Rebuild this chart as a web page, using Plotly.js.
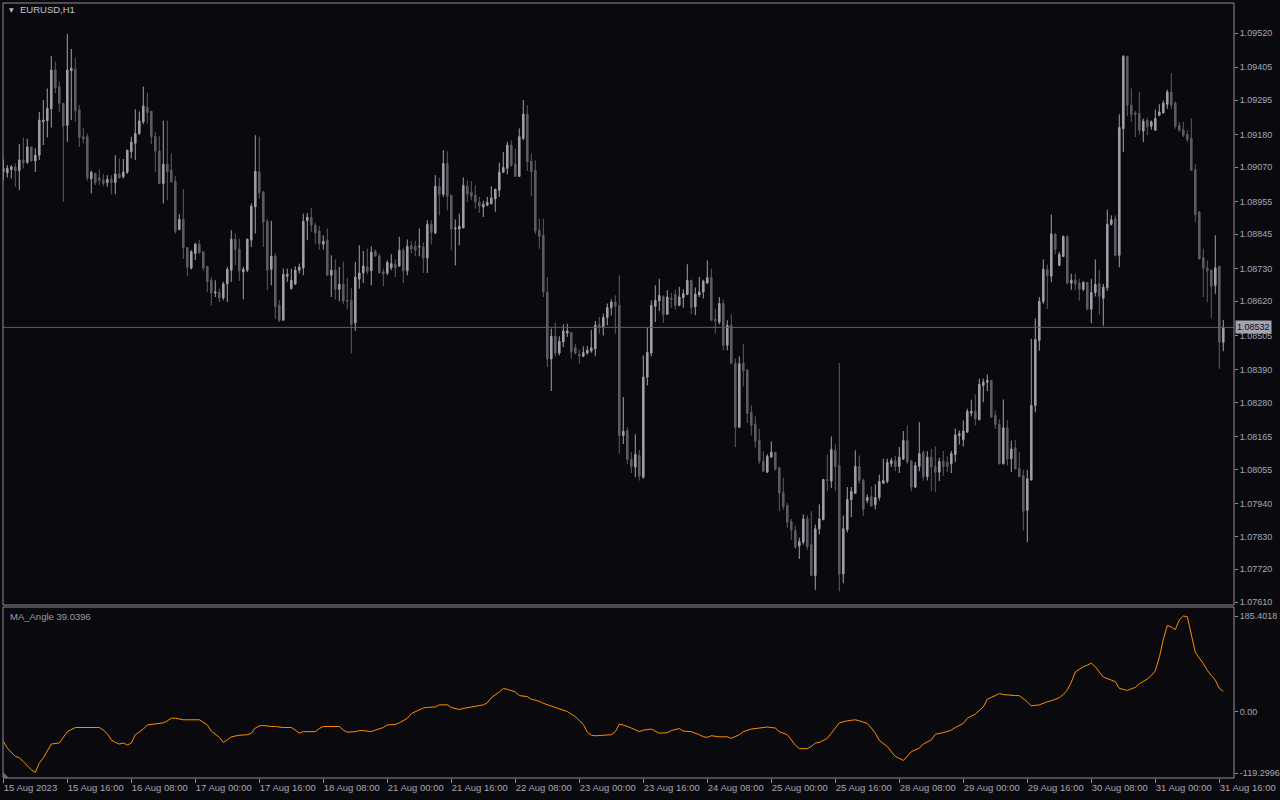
<!DOCTYPE html>
<html><head><meta charset="utf-8">
<script src="https://cdn.plot.ly/plotly-3.0.1.min.js"></script>
<style>html,body{margin:0;padding:0;background:#0a0a0e;}#chart{width:1280px;height:800px;}</style>
</head><body><div id="chart"></div>
<script>
// ---- Data: EURUSD H1, bar index 0 = 15 Aug 2023 00:00 ----
var openP = [
1.09054,1.09051,1.09062,1.09070,1.09058,1.09094,1.09085,1.09138,1.09091,1.09110,
1.09222,1.09226,1.09266,1.09396,1.09340,1.09284,1.09211,1.09394,1.09399,1.09262,
1.09172,1.09172,1.09031,1.09049,1.09033,1.09026,1.09018,1.09029,1.09018,1.09047,
1.09038,1.09053,1.09122,1.09150,1.09183,1.09222,1.09271,1.09258,1.09174,1.09124,
1.09015,1.09080,1.09060,1.09023,1.08861,1.08895,1.08800,1.08731,1.08780,1.08811,
1.08786,1.08737,1.08690,1.08647,1.08650,1.08631,1.08678,1.08724,1.08828,1.08794,
1.08718,1.08724,1.08825,1.08937,1.09054,1.08986,1.08888,1.08727,1.08771,1.08606,
1.08556,1.08704,1.08662,1.08677,1.08724,1.08732,1.08890,1.08902,1.08875,1.08855,
1.08811,1.08825,1.08707,1.08724,1.08660,1.08677,1.08623,1.08623,1.08547,1.08694,
1.08715,1.08735,1.08722,1.08788,1.08772,1.08718,1.08715,1.08732,1.08744,1.08738,
1.08791,1.08722,1.08806,1.08804,1.08802,1.08802,1.08765,1.08878,1.08849,1.09006,
1.08979,1.09082,1.08976,1.08862,1.08862,1.08866,1.09006,1.08986,1.08976,1.08952,
1.08936,1.08942,1.08947,1.08963,1.08992,1.09053,1.09066,1.09144,1.09080,1.09039,
1.09166,1.09248,1.09090,1.09060,1.08858,1.08841,1.08650,1.08426,1.08502,1.08446,
1.08483,1.08513,1.08515,1.08464,1.08441,1.08435,1.08446,1.08453,1.08460,1.08542,
1.08535,1.08565,1.08598,1.08617,1.08606,1.08169,1.08186,1.08089,1.08063,1.08102,
1.08029,1.08365,1.08446,1.08603,1.08621,1.08636,1.08576,1.08630,1.08643,1.08606,
1.08632,1.08643,1.08690,1.08601,1.08641,1.08651,1.08681,1.08699,1.08559,1.08550,
1.08612,1.08472,1.08539,1.08412,1.08197,1.08412,1.08388,1.08246,1.08206,1.08153,
1.08083,1.08046,1.08097,1.08113,1.08060,1.07977,1.07934,1.07880,1.07850,1.07798,
1.07811,1.07889,1.07803,1.07699,1.07856,1.07887,1.08021,1.08016,1.08119,1.08068,
1.07704,1.07853,1.07954,1.07975,1.08065,1.08018,1.07951,1.07964,1.07937,1.07961,
1.08009,1.08015,1.08074,1.08085,1.08065,1.08090,1.08152,1.08083,1.07996,1.08065,
1.08112,1.08031,1.08096,1.08065,1.08046,1.08083,1.08079,1.08074,1.08105,1.08169,
1.08155,1.08180,1.08244,1.08250,1.08222,1.08337,1.08348,1.08354,1.08236,1.08206,
1.08074,1.08195,1.08091,1.08128,1.08059,1.08035,1.07918,1.08020,1.08270,1.08488,
1.08619,1.08727,1.08704,1.08844,1.08740,1.08770,1.08837,1.08681,1.08692,1.08681,
1.08660,1.08683,1.08593,1.08649,1.08678,1.08630,1.08665,1.08878,1.08897,1.08774,
1.09199,1.09442,1.09278,1.09252,1.09250,1.09191,1.09227,1.09207,1.09194,1.09244,
1.09252,1.09281,1.09322,1.09285,1.09210,1.09196,1.09180,1.09167,1.09061,1.08919,
1.08766,1.08732,1.08725,1.08673,1.08737,1.08482];
var highP = [
1.09096,1.09077,1.09077,1.09082,1.09147,1.09170,1.09165,1.09138,1.09133,1.09255,
1.09295,1.09334,1.09443,1.09424,1.09357,1.09284,1.09517,1.09467,1.09436,1.09278,
1.09202,1.09183,1.09058,1.09049,1.09062,1.09047,1.09043,1.09043,1.09110,1.09099,
1.09097,1.09127,1.09172,1.09264,1.09257,1.09340,1.09320,1.09258,1.09188,1.09174,
1.09226,1.09226,1.09116,1.09040,1.08912,1.08996,1.08800,1.08791,1.08816,1.08825,
1.08786,1.08737,1.08701,1.08690,1.08662,1.08685,1.08735,1.08858,1.08847,1.08830,
1.08735,1.08830,1.08948,1.09177,1.09172,1.08990,1.08897,1.08890,1.08780,1.08623,
1.08729,1.08729,1.08729,1.08737,1.08746,1.08914,1.08916,1.08933,1.08883,1.08872,
1.08841,1.08864,1.08774,1.08760,1.08735,1.08753,1.08698,1.08664,1.08752,1.08808,
1.08789,1.08797,1.08804,1.08793,1.08780,1.08729,1.08757,1.08778,1.08760,1.08836,
1.08797,1.08827,1.08822,1.08822,1.08864,1.08817,1.08892,1.08892,1.09043,1.09035,
1.09127,1.09123,1.08976,1.08894,1.08914,1.09035,1.09026,1.09023,1.09009,1.08970,
1.08957,1.08970,1.09006,1.08996,1.09085,1.09121,1.09155,1.09160,1.09132,1.09200,
1.09295,1.09278,1.09116,1.09093,1.08897,1.08897,1.08701,1.08528,1.08548,1.08502,
1.08542,1.08544,1.08515,1.08477,1.08457,1.08468,1.08469,1.08524,1.08553,1.08567,
1.08578,1.08612,1.08626,1.08640,1.08707,1.08298,1.08197,1.08113,1.08173,1.08121,
1.08438,1.08533,1.08623,1.08673,1.08695,1.08640,1.08657,1.08648,1.08659,1.08668,
1.08659,1.08744,1.08692,1.08666,1.08701,1.08692,1.08757,1.08729,1.08595,1.08634,
1.08625,1.08556,1.08576,1.08427,1.08435,1.08477,1.08393,1.08270,1.08233,1.08192,
1.08116,1.08106,1.08149,1.08113,1.08065,1.08027,1.07943,1.07889,1.07867,1.07826,
1.07904,1.07901,1.07915,1.07870,1.07938,1.08024,1.08105,1.08166,1.08139,1.08412,
1.07900,1.07996,1.07996,1.08119,1.08102,1.08024,1.07971,1.07998,1.08005,1.08038,
1.08091,1.08091,1.08094,1.08101,1.08130,1.08184,1.08203,1.08087,1.08080,1.08214,
1.08119,1.08117,1.08124,1.08132,1.08094,1.08117,1.08099,1.08117,1.08192,1.08186,
1.08220,1.08259,1.08289,1.08307,1.08360,1.08360,1.08374,1.08354,1.08253,1.08225,
1.08290,1.08220,1.08152,1.08155,1.08113,1.08054,1.08054,1.08494,1.08561,1.08634,
1.08760,1.08743,1.08911,1.08849,1.08785,1.08841,1.08841,1.08712,1.08712,1.08695,
1.08687,1.08683,1.08695,1.08760,1.08725,1.08678,1.08927,1.08908,1.08908,1.09247,
1.09446,1.09442,1.09334,1.09259,1.09322,1.09233,1.09236,1.09227,1.09263,1.09281,
1.09294,1.09330,1.09386,1.09291,1.09222,1.09222,1.09194,1.09233,1.09079,1.08923,
1.08796,1.08757,1.08725,1.08841,1.08737,1.08557];
var lowP = [
1.09026,1.09035,1.09032,1.09004,1.08993,1.09066,1.09082,1.09088,1.09054,1.09094,
1.09144,1.09170,1.09203,1.09318,1.09256,1.08954,1.09155,1.09228,1.09222,1.09138,
1.09150,1.09024,1.08982,1.09010,1.09010,1.09006,1.09004,1.08979,1.08979,1.09032,
1.09032,1.09047,1.09099,1.09094,1.09178,1.09215,1.09217,1.09147,1.09054,1.09013,
1.08948,1.08959,1.09018,1.08847,1.08858,1.08762,1.08704,1.08726,1.08758,1.08780,
1.08722,1.08651,1.08606,1.08634,1.08617,1.08623,1.08617,1.08685,1.08741,1.08688,
1.08626,1.08718,1.08802,1.08847,1.08965,1.08802,1.08657,1.08673,1.08561,1.08550,
1.08556,1.08685,1.08659,1.08677,1.08713,1.08707,1.08825,1.08853,1.08811,1.08794,
1.08793,1.08707,1.08634,1.08625,1.08620,1.08610,1.08592,1.08445,1.08520,1.08662,
1.08681,1.08710,1.08673,1.08769,1.08713,1.08670,1.08707,1.08724,1.08701,1.08735,
1.08681,1.08707,1.08780,1.08771,1.08771,1.08715,1.08715,1.08811,1.08845,1.08908,
1.08970,1.08925,1.08791,1.08740,1.08808,1.08866,1.08953,1.08959,1.08931,1.08916,
1.08903,1.08939,1.08945,1.08920,1.08970,1.09051,1.09046,1.09071,1.09037,1.09037,
1.09160,1.09057,1.08972,1.08845,1.08796,1.08634,1.08399,1.08318,1.08435,1.08438,
1.08466,1.08500,1.08427,1.08441,1.08410,1.08432,1.08441,1.08447,1.08435,1.08511,
1.08505,1.08539,1.08572,1.08511,1.08108,1.08141,1.08074,1.08043,1.08029,1.08018,
1.08024,1.08337,1.08435,1.08550,1.08587,1.08547,1.08576,1.08598,1.08592,1.08603,
1.08598,1.08640,1.08576,1.08573,1.08634,1.08629,1.08677,1.08554,1.08511,1.08542,
1.08455,1.08455,1.08408,1.08130,1.08195,1.08334,1.08211,1.08169,1.08128,1.08074,
1.08046,1.08043,1.08094,1.08052,1.07915,1.07920,1.07859,1.07819,1.07789,1.07755,
1.07803,1.07785,1.07696,1.07651,1.07837,1.07884,1.07982,1.07993,1.07982,1.07646,
1.07673,1.07844,1.07895,1.07973,1.08007,1.07900,1.07942,1.07931,1.07921,1.07951,
1.08007,1.08009,1.08063,1.08049,1.08043,1.08087,1.08074,1.07982,1.07993,1.08049,
1.08018,1.08018,1.07982,1.07979,1.08016,1.08034,1.08046,1.08043,1.08080,1.08139,
1.08132,1.08180,1.08233,1.08203,1.08220,1.08281,1.08318,1.08229,1.08192,1.08072,
1.08072,1.08068,1.08046,1.08054,1.08029,1.07850,1.07811,1.08018,1.08247,1.08454,
1.08611,1.08594,1.08684,1.08777,1.08740,1.08768,1.08676,1.08658,1.08658,1.08622,
1.08654,1.08591,1.08546,1.08636,1.08575,1.08538,1.08654,1.08874,1.08770,1.08734,
1.09121,1.09241,1.09222,1.09171,1.09180,1.09154,1.09177,1.09196,1.09194,1.09241,
1.09250,1.09266,1.09266,1.09199,1.09188,1.09171,1.09154,1.09057,1.08886,1.08759,
1.08634,1.08617,1.08564,1.08645,1.08393,1.08452];
var closeP = [
1.09066,1.09066,1.09071,1.09058,1.09094,1.09085,1.09138,1.09091,1.09110,1.09228,
1.09228,1.09268,1.09396,1.09336,1.09284,1.09208,1.09396,1.09402,1.09259,1.09170,
1.09165,1.09034,1.09053,1.09018,1.09026,1.09015,1.09029,1.09018,1.09047,1.09034,
1.09053,1.09127,1.09154,1.09183,1.09225,1.09275,1.09253,1.09172,1.09124,1.09015,
1.09080,1.09054,1.09021,1.08855,1.08894,1.08799,1.08733,1.08786,1.08811,1.08782,
1.08731,1.08685,1.08648,1.08651,1.08631,1.08678,1.08727,1.08828,1.08794,1.08722,
1.08727,1.08828,1.08939,1.09056,1.08984,1.08886,1.08724,1.08771,1.08601,1.08556,
1.08710,1.08710,1.08690,1.08724,1.08734,1.08888,1.08902,1.08875,1.08849,1.08813,
1.08821,1.08707,1.08724,1.08660,1.08677,1.08620,1.08620,1.08542,1.08701,1.08715,
1.08738,1.08720,1.08784,1.08772,1.08715,1.08711,1.08750,1.08746,1.08732,1.08791,
1.08722,1.08804,1.08795,1.08791,1.08804,1.08765,1.08878,1.08851,1.09006,1.08979,
1.09082,1.08972,1.08862,1.08865,1.08871,1.09008,1.08979,1.08972,1.08953,1.08939,
1.08945,1.08952,1.08966,1.08996,1.09053,1.09069,1.09144,1.09076,1.09039,1.09172,
1.09248,1.09088,1.09054,1.08856,1.08838,1.08651,1.08426,1.08502,1.08446,1.08485,
1.08520,1.08520,1.08449,1.08446,1.08436,1.08447,1.08455,1.08463,1.08539,1.08533,
1.08565,1.08598,1.08617,1.08603,1.08169,1.08183,1.08089,1.08065,1.08106,1.08032,
1.08365,1.08448,1.08606,1.08623,1.08639,1.08576,1.08634,1.08626,1.08606,1.08634,
1.08645,1.08690,1.08598,1.08644,1.08651,1.08687,1.08699,1.08556,1.08554,1.08612,
1.08472,1.08539,1.08412,1.08197,1.08410,1.08386,1.08244,1.08203,1.08150,1.08083,
1.08050,1.08099,1.08113,1.08055,1.07976,1.07931,1.07878,1.07852,1.07794,1.07813,
1.07889,1.07796,1.07699,1.07856,1.07889,1.08021,1.08018,1.08122,1.08065,1.07704,
1.07856,1.07954,1.07981,1.08065,1.08018,1.07921,1.07961,1.07932,1.07961,1.08015,
1.08018,1.08079,1.08085,1.08065,1.08096,1.08152,1.08080,1.07996,1.08068,1.08108,
1.08031,1.08096,1.08063,1.08046,1.08082,1.08065,1.08065,1.08108,1.08171,1.08175,
1.08184,1.08250,1.08250,1.08225,1.08341,1.08348,1.08354,1.08231,1.08206,1.08074,
1.08195,1.08090,1.08124,1.08057,1.08031,1.07915,1.08024,1.08270,1.08491,1.08619,
1.08727,1.08706,1.08846,1.08794,1.08777,1.08837,1.08681,1.08690,1.08678,1.08660,
1.08683,1.08593,1.08649,1.08676,1.08636,1.08667,1.08878,1.08893,1.08774,1.09203,
1.09442,1.09278,1.09247,1.09247,1.09194,1.09224,1.09205,1.09222,1.09233,1.09255,
1.09285,1.09322,1.09278,1.09207,1.09194,1.09177,1.09163,1.09059,1.08911,1.08762,
1.08731,1.08721,1.08669,1.08732,1.08482,1.08532];

// MA_Angle indicator (bar index, value)
var maIdx = [
0,1,3,4,5,6,7,8,9,10,11,12,14,15,16,18,19,20,22,24,
25,26,27,28,29,30,31,32,33,35,36,38,40,41,42,43,45,47,49,51,
52,54,55,56,57,59,61,62,63,64,65,67,68,70,72,73,74,75,76,78,
79,80,82,84,85,86,88,89,90,92,93,95,96,98,99,101,102,104,105,106,
108,109,111,112,114,115,117,118,120,121,122,124,125,126,128,129,131,132,134,135,
137,138,140,141,143,144,145,146,147,148,149,150,152,153,154,155,157,159,160,162,
164,166,167,169,170,172,174,175,176,177,179,181,182,184,185,187,189,191,193,194,
196,197,198,199,201,202,203,204,206,207,208,209,211,213,214,216,217,218,219,221,
222,223,225,226,227,229,230,232,233,235,237,238,240,241,243,245,246,248,249,250,
252,253,254,256,257,259,261,262,264,265,266,267,268,270,271,272,273,275,277,278,
279,281,283,284,286,287,288,289,290,291,292,293,294,295,296,297,298,300,301,302,
303,304,305];
var maVal = [
-58,-71,-87,-90,-97,-106,-113,-118,-100,-90,-75,-63,-61,-49,-39,-31,-31,-30,-30,-31,
-36,-43,-55,-60,-63,-61,-65,-61,-45,-34,-26,-24,-22,-18,-13,-13,-16,-16,-16,-26,
-38,-50,-60,-55,-49,-46,-45,-42,-32,-28,-27,-29,-29,-31,-31,-36,-42,-39,-39,-39,
-33,-29,-29,-29,-36,-40,-39,-37,-37,-39,-36,-31,-26,-25,-22,-13,-4,3,7,8,
9,13,13,8,4,6,9,11,13,17,27,38,45,43,38,31,29,24,20,16,
11,8,4,0,-10,-18,-25,-40,-46,-47,-47,-46,-45,-39,-25,-26,-32,-39,-36,-34,
-42,-41,-37,-33,-38,-39,-45,-49,-50,-47,-49,-49,-52,-45,-39,-34,-32,-30,-32,-39,
-45,-55,-65,-72,-72,-68,-61,-60,-52,-42,-33,-22,-18,-16,-18,-23,-32,-42,-56,-68,
-78,-87,-95,-87,-78,-71,-63,-55,-44,-41,-36,-31,-23,-13,-5,9,24,31,35,33,
31,31,31,19,11,13,19,21,27,33,42,57,77,87,90,94,87,67,61,58,
45,41,47,54,63,70,79,105,140,167,164,159,178,185.4018,184,151,115,93,80,70,
61,45,39.0396];

var priceTicks = [1.09520,1.09405,1.09295,1.09180,1.09070,1.08955,1.08845,1.08730,1.08620,1.08505,1.08390,1.08280,1.08165,1.08055,1.07940,1.07830,1.07720,1.07610];
var maTicks = [185.4018, 0, -119.2996];
var maTickText = ['185.4018', '0.00', '-119.2996'];
var timeTickBars = [0,16,32,48,64,80,96,112,128,144,160,176,192,208,224,240,256,272,288,304];
var timeTickText = ['15 Aug 2023','15 Aug 16:00','16 Aug 08:00','17 Aug 00:00','17 Aug 16:00','18 Aug 08:00','21 Aug 00:00','21 Aug 16:00','22 Aug 08:00','23 Aug 00:00','23 Aug 16:00','24 Aug 08:00','25 Aug 00:00','25 Aug 16:00','28 Aug 08:00','29 Aug 00:00','29 Aug 16:00','30 Aug 08:00','31 Aug 00:00','31 Aug 16:00'];
var lastPrice = 1.08532;
var maLast = 39.0396;

// ---- Build ----
var bars = openP.map(function(_, i){ return i; });
var textCol = '#a2a7b6';
var frameCol = '#8e8e96';
var fontFam = 'Liberation Sans, Arial, sans-serif';
var fs = 9;

var traces = [
  {
    type: 'candlestick', x: bars, open: openP, high: highP, low: lowP, close: closeP,
    xaxis: 'x', yaxis: 'y',
    increasing: {line: {color: '#9e9eaa', width: 1}, fillcolor: '#9e9eaa'},
    decreasing: {line: {color: '#5c5c62', width: 1}, fillcolor: '#5c5c62'},
    whiskerwidth: 0, hoverinfo: 'skip', showlegend: false
  },
  {
    type: 'scatter', mode: 'lines', x: maIdx, y: maVal,
    xaxis: 'x2', yaxis: 'y2',
    line: {color: '#ff8c00', width: 1, shape: 'linear'},
    hoverinfo: 'skip', showlegend: false
  }
];

var xr = [-0.075, 307.675];
var layout = {
  width: 1280, height: 800,
  margin: {l: 3, r: 46, t: 3, b: 22, pad: 0},
  paper_bgcolor: '#0a0a0e', plot_bgcolor: '#0a0a0e',
  font: {family: fontFam, size: fs, color: textCol},
  showlegend: false,
  boxgap: 0.45,
  xaxis: {
    domain: [0, 1], range: xr, anchor: 'y', showticklabels: false, ticks: '',
    showgrid: false, zeroline: false, showline: false, rangeslider: {visible: false}, fixedrange: true
  },
  xaxis2: {
    domain: [0, 1], range: xr, anchor: 'y2', matches: 'x',
    tickmode: 'array', tickvals: timeTickBars, ticktext: timeTickText, tickangle: 0,
    ticks: 'outside', ticklen: 4, tickwidth: 1, tickcolor: frameCol,
    ticklabelposition: 'outside right', ticklabelstandoff: 1,
    tickfont: {family: fontFam, size: 9.5, color: textCol},
    showgrid: false, zeroline: false, showline: false, fixedrange: true
  },
  yaxis: {
    domain: [0.2232, 1], range: [1.07600, 1.09621], side: 'right', anchor: 'x',
    tickmode: 'array', tickvals: priceTicks, ticktext: priceTicks.map(function(v){ return v.toFixed(5); }),
    ticks: 'outside', ticklen: 3, tickwidth: 1, tickcolor: frameCol,
    tickfont: {family: fontFam, size: fs, color: textCol},
    showgrid: false, zeroline: false, showline: false, fixedrange: true
  },
  yaxis2: {
    domain: [0, 0.2206], range: [-129.0, 202.9], side: 'right', anchor: 'x2',
    tickmode: 'array', tickvals: maTicks, ticktext: maTickText,
    ticks: 'outside', ticklen: 3, tickwidth: 1, tickcolor: frameCol,
    tickfont: {family: fontFam, size: fs, color: textCol},
    showgrid: false, zeroline: false, showline: false, fixedrange: true
  },
  shapes: [
    {type: 'line', xref: 'paper', yref: 'y', x0: 0, x1: 1, y0: lastPrice, y1: lastPrice,
     line: {color: '#5e5e66', width: 1}},
    {type: 'rect', xref: 'paper', yref: 'paper', x0: 0, x1: 1, y0: 0.2232, y1: 1,
     line: {color: frameCol, width: 1}, fillcolor: 'rgba(0,0,0,0)'},
    {type: 'rect', xref: 'paper', yref: 'paper', x0: 0, x1: 1, y0: 0, y1: 0.2206,
     line: {color: frameCol, width: 1}, fillcolor: 'rgba(0,0,0,0)'},
    {type: 'path', xref: 'paper', yref: 'paper', path: 'M 0.0002 0.0002 L 0.0045 0.0002 L 0.0002 0.0075 Z',
     line: {width: 0}, fillcolor: '#707078'}
  ],
  annotations: [
    {xref: 'paper', yref: 'paper', x: 0.0033, y: 0.9915, xanchor: 'left', yanchor: 'middle',
     text: '\u25BC', showarrow: false, font: {family: 'DejaVu Sans', size: 6, color: '#b8bcc8'}},
    {xref: 'paper', yref: 'paper', x: 0.0122, y: 0.9915, xanchor: 'left', yanchor: 'middle',
     text: 'EURUSD,H1', showarrow: false, font: {family: fontFam, size: 9.5, color: '#c2c6d2'}},
    {xref: 'paper', yref: 'paper', x: 0.0037, y: 0.2087, xanchor: 'left', yanchor: 'middle',
     text: 'MA_Angle ' + maLast.toFixed(4), showarrow: false, font: {family: fontFam, size: 9.5, color: '#9a9ca6'}},
    {xref: 'paper', yref: 'y', x: 1, y: lastPrice, xanchor: 'left', yanchor: 'middle', xshift: 1,
     text: lastPrice.toFixed(5), showarrow: false, bgcolor: '#a4a4ae', borderpad: 1,
     font: {family: fontFam, size: fs, color: '#0c0c10'}}
  ]
};

Plotly.newPlot('chart', traces, layout, {staticPlot: true, displayModeBar: false});
</script>
</body></html>
